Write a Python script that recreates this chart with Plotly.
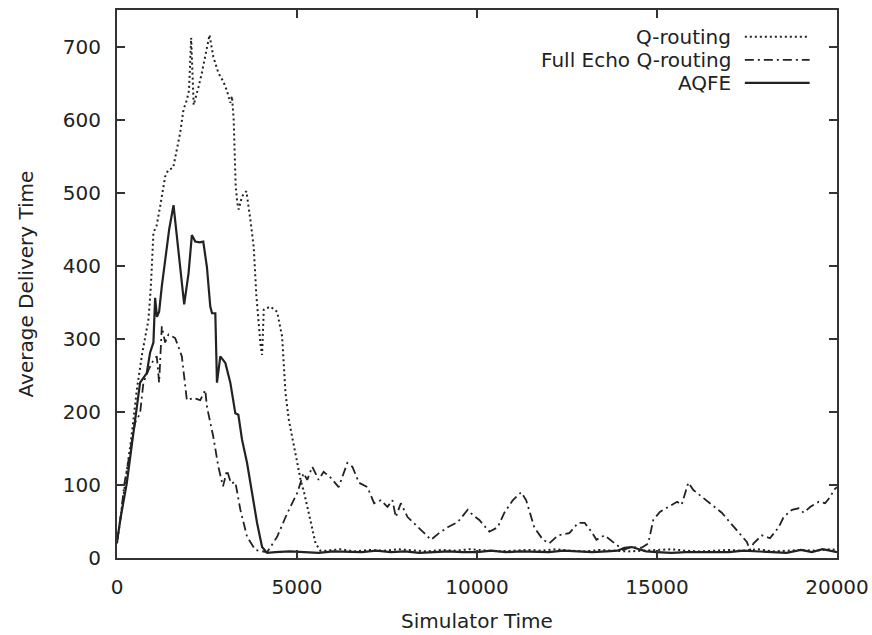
import plotly.graph_objects as go

# ---------------- data ----------------
q_x_head = [0, 200, 400, 550, 700, 873, 940, 1012, 1100, 1198,
            1337, 1421, 1560, 1662, 1755, 1848, 1941, 2000, 2060, 2130,
            2173, 2266, 2359, 2452, 2570, 2675, 2815, 2954, 3056, 3148,
            3194, 3241, 3269, 3297, 3343, 3380, 3473, 3594, 3705, 3797,
            3870, 3930, 3990, 4030, 4077, 4262, 4448, 4587, 4680, 4773,
            4866, 5006, 5100, 5200, 5377, 5516, 5650]
q_y_head = [20, 90, 165, 230, 280, 326, 371, 445, 455, 481,
            522, 531, 534, 559, 582, 614, 627, 640, 712, 620,
            627, 645, 664, 686, 716, 686, 664, 652, 639, 623,
            632, 600, 555, 509, 486, 477, 495, 502, 463, 426,
            360, 320, 290, 278, 340, 344, 337, 303, 226, 189,
            166, 130, 107, 89, 52, 20, 10]
q_x_tail = [5800, 6200, 6600, 7000, 7400, 7800, 8200, 8600, 9000, 9400,
            9800, 10200, 10600, 11000, 11400, 11800, 12200, 12600, 13000, 13400,
            13800, 14200, 14600, 15000, 15400, 15800, 16200, 16600, 17000, 17400,
            17800, 18200, 18600, 19000, 19400, 19800, 20000]
q_y_tail = [10, 12, 9, 11, 10, 12, 10, 9, 11, 10,
            12, 11, 9, 10, 11, 10, 12, 10, 9, 11,
            10, 9, 10, 11, 12, 10, 9, 10, 11, 10,
            12, 9, 10, 11, 10, 12, 11]

fe_x = [0, 100, 200, 362, 501, 641, 734, 873, 1012, 1105,
        1170, 1245, 1337, 1431, 1616, 1801, 1941, 2127, 2312, 2452,
        2498, 2675, 2815, 2945, 3056, 3167, 3287, 3427, 3613, 3844,
        4170, 4448, 4727, 5006, 5182, 5285, 5424, 5600, 5739, 5934,
        6157, 6398, 6537, 6723, 6955, 7141, 7327, 7513, 7652, 7745,
        7885, 8071, 8350, 8536, 8721, 8944, 9185, 9463, 9741, 9880,
        10065, 10343, 10574, 10760, 10993, 11228, 11367, 11590, 11830, 12008,
        12250, 12565, 12807, 12992, 13178, 13317, 13540, 13818, 14059, 14290,
        14570, 14757, 14896, 15080, 15322, 15559, 15685, 15871, 16010, 16243,
        16521, 16800, 17023, 17264, 17496, 17580, 17683, 17914, 18137, 18378,
        18518, 18749, 18935, 19074, 19260, 19492, 19669, 19818, 19910, 20000]
fe_y = [22, 55, 100, 148, 185, 198, 240, 257, 271, 276,
        240, 317, 295, 306, 301, 276, 216, 219, 216, 230,
        207, 166, 125, 98, 120, 102, 104, 66, 29, 11,
        8, 29, 61, 89, 116, 107, 125, 107, 118, 110,
        97, 130, 125, 103, 97, 75, 79, 70, 79, 56,
        75, 56, 42, 34, 25, 34, 42, 49, 66, 59,
        52, 36, 42, 62, 79, 90, 79, 42, 25, 20,
        31, 34, 48, 48, 36, 25, 31, 20, 11, 15,
        14, 20, 52, 63, 70, 77, 73, 103, 93, 84,
        73, 62, 49, 36, 22, 11, 20, 31, 27, 42,
        56, 66, 68, 62, 70, 77, 75, 84, 93, 97]

aq_x_head = [0, 100, 270, 455, 641, 827, 919, 1012, 1059, 1110,
             1170, 1245, 1337, 1450, 1570, 1709, 1801, 1866, 1988, 2080,
             2173, 2300, 2396, 2498, 2591, 2640, 2731, 2777, 2870, 3010,
             3148, 3287, 3371, 3473, 3613, 3752, 3891, 4030, 4170]
aq_y_head = [22, 55, 102, 171, 240, 253, 281, 295, 356, 330,
             337, 372, 408, 450, 483, 418, 371, 347, 390, 442,
             433, 432, 433, 398, 344, 335, 335, 240, 276, 267,
             240, 198, 196, 162, 130, 89, 48, 15, 7]
aq_x_tail = [4400, 4800, 5200, 5600, 6000, 6400, 6800, 7200, 7600, 8000,
             8400, 8800, 9200, 9600, 10000, 10400, 10800, 11200, 11600, 12000,
             12400, 12800, 13200, 13600, 13900, 14100, 14300, 14500, 14700, 15000,
             15400, 15800, 16200, 16600, 17000, 17400, 17800, 18200, 18600, 19000,
             19300, 19600, 20000]
aq_y_tail = [8, 9, 8, 7, 9, 8, 8, 10, 8, 9,
             7, 8, 9, 8, 8, 10, 8, 9, 8, 8,
             10, 9, 8, 9, 10, 14, 15, 12, 9, 8,
             7, 8, 8, 9, 8, 10, 9, 8, 7, 11,
             8, 12, 8]

series_names = ["Q-routing", "Full Echo Q-routing", "AQFE"]
x_ticks = [0, 5000, 10000, 15000, 20000]
y_ticks = [0, 100, 200, 300, 400, 500, 600, 700]

# ---------------- styling ----------------
FONT = "DejaVu Sans"
INK = "#222222"
dashes = ["2px,3px", "9px,4px,2px,4px", "solid"]
widths = [2, 1.8, 2.2]

series = [
    (q_x_head + q_x_tail, q_y_head + q_y_tail),
    (fe_x, fe_y),
    (aq_x_head + aq_x_tail, aq_y_head + aq_y_tail),
]

fig = go.Figure()
for (xs, ys), name, d, w in zip(series, series_names, dashes, widths):
    fig.add_trace(go.Scatter(x=xs, y=ys, mode="lines", name=name,
                             line=dict(color=INK, width=w, dash=d),
                             showlegend=False))

# gnuplot-style legend: right-aligned text with sample line on its right
leg_y = [0.951, 0.909, 0.867]
for name, d, w, yy in zip(series_names, dashes, widths, leg_y):
    fig.add_annotation(x=0.855, y=yy, xref="paper", yref="paper",
                       text=name, showarrow=False, xanchor="right",
                       yanchor="middle", font=dict(family=FONT, size=20, color=INK))
    fig.add_shape(type="line", xref="paper", yref="paper",
                  x0=0.872, x1=0.962, y0=yy, y1=yy,
                  line=dict(color=INK, width=w, dash=d))

axis_common = dict(showline=True, linecolor="#333333", linewidth=2,
                   mirror="allticks", ticks="inside", ticklen=8,
                   tickwidth=1.5, tickcolor="#333333", showgrid=False,
                   zeroline=False,
                   tickfont=dict(family=FONT, size=20, color=INK))

fig.update_xaxes(range=[0, 20000], tickvals=x_ticks,
                 ticktext=[str(v) for v in x_ticks],
                 ticklabelstandoff=10,
                 title=dict(text="Simulator Time", standoff=16,
                            font=dict(family=FONT, size=20, color=INK)),
                 **axis_common)
fig.update_yaxes(range=[0, 750], tickvals=y_ticks,
                 ticktext=[str(v) for v in y_ticks],
                 ticklabelstandoff=10,
                 title=dict(text="Average Delivery Time", standoff=24,
                            font=dict(family=FONT, size=20, color=INK)),
                 **axis_common)

fig.update_layout(width=872, height=635,
                  margin=dict(l=117, r=35, t=10, b=77, autoexpand=False),
                  paper_bgcolor="white", plot_bgcolor="white",
                  font=dict(family=FONT, color=INK))

fig.write_html("out.html")
